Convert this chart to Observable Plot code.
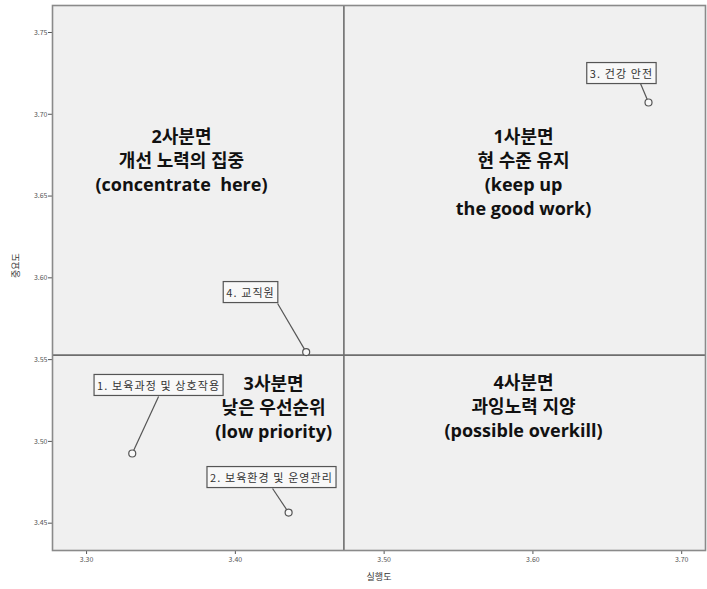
<!DOCTYPE html>
<html>
<head>
<meta charset="utf-8">
<script src="https://cdn.jsdelivr.net/npm/d3@7"></script>
<script src="https://cdn.jsdelivr.net/npm/@observablehq/plot@0.6"></script>
<style>
  html, body { margin: 0; padding: 0; background: #ffffff; }
  #chart { width: 707px; height: 589px; }
</style>
</head>
<body>
<div id="chart"></div>
<script>
// ---- data ----
const items = ["1. 보육과정 및 상호작용", "2. 보육환경 및 운영관리", "3. 건강 안전", "4. 교직원"];
const performance = [3.3307, 3.4358, 3.6777, 3.4476];   // 실행도
const importance  = [3.4926, 3.4565, 3.7072, 3.5546];   // 중요도
// label box centres and leader-line attach points (data units)
const labelX  = [3.3484, 3.4243, 3.6595, 3.4102];
const labelY  = [3.5336, 3.4773, 3.7243, 3.5904];
const leaderX = [3.3484, 3.4250, 3.6723, 3.4284];
const leaderY = [3.5275, 3.4712, 3.7188, 3.5843];

const quadrantText = [
  "1사분면\n현 수준 유지\n(keep up\nthe good work)",
  "2사분면\n개선 노력의 집중\n(concentrate  here)",
  "3사분면\n낮은 우선순위\n(low priority)",
  "4사분면\n과잉노력 지양\n(possible overkill)"
];
const quadX = [3.5937, 3.3638, 3.4257, 3.5937];
const quadY = [3.6649, 3.6722, 3.5214, 3.5220];

const xTicks = [3.30, 3.40, 3.50, 3.60, 3.70];
const yTicks = [3.45, 3.50, 3.55, 3.60, 3.65, 3.70, 3.75];
const xDomain = [3.2771, 3.7160];
const yDomain = [3.4333, 3.7665];

// ---- tables ----
const points = items.map((name, i) => ({
  name, x: performance[i], y: importance[i],
  lx: labelX[i], ly: labelY[i], ax: leaderX[i], ay: leaderY[i]
}));
const quads = quadrantText.map((t, i) => ({ t, x: quadX[i], y: quadY[i] }));

const meanX = d3.mean(performance);
const meanY = d3.mean(importance);

const font = "'Noto Sans CJK KR', 'Noto Sans', sans-serif";
const quadFont = "'Open Sans', 'Noto Sans CJK KR', sans-serif";

const chart = Plot.plot({
  width: 707,
  height: 589,
  marginLeft: 52,
  marginRight: 2,
  marginTop: 5,
  marginBottom: 39,
  style: { fontFamily: font, background: "#ffffff", overflow: "visible" },
  x: { domain: xDomain, ticks: xTicks, tickFormat: d3.format(".2f") },
  y: { domain: yDomain, ticks: yTicks, tickFormat: d3.format(".2f") },
  marks: [
    Plot.frame({ fill: "#f0f0f0", stroke: "none" }),
    Plot.ruleX([meanX], { stroke: "#6e6e6e", strokeWidth: 1.6 }),
    Plot.ruleY([meanY], { stroke: "#6e6e6e", strokeWidth: 1.6 }),
    Plot.link(points, { x1: "x", y1: "y", x2: "ax", y2: "ay", stroke: "#555", strokeWidth: 1.2 }),
    Plot.dot(points, { x: "x", y: "y", r: 3.5, stroke: "#555", fill: "#f8f8f8", strokeWidth: 1.2 }),
    Plot.text(points, {
      x: "lx", y: "ly", text: "name", fontSize: 11, fill: "#333",
      textAnchor: "middle", lineAnchor: "middle"
    }),
    Plot.text(quads, {
      x: "x", y: "y", text: "t", fontSize: 18, fontWeight: "bold", fill: "#111",
      fontFamily: quadFont,
      textAnchor: "middle", lineAnchor: "middle", lineHeight: 1.33
    }),
    Plot.axisX({ ticks: xTicks, tickFormat: d3.format(".2f"), tickSize: 4, tickPadding: 3,
      fontSize: 7, color: "#555", label: null }),
    Plot.axisY({ ticks: yTicks, tickFormat: d3.format(".2f"), tickSize: 4, tickPadding: 1,
      fontSize: 7, color: "#555", label: null }),
    Plot.text(["중요도"], { frameAnchor: "left", dx: -36, rotate: -90, fontSize: 9, fill: "#333" }),
    Plot.text(["실행도"], { frameAnchor: "bottom", dy: 29, fontSize: 9, fill: "#333" }),
    Plot.frame({ stroke: "#8a8a8a", strokeWidth: 1.6 })
  ]
});

document.getElementById("chart").appendChild(chart);

// boxes behind point labels
const NS = "http://www.w3.org/2000/svg";
Array.from(chart.querySelectorAll("text"))
  .filter(t => items.includes(t.textContent))
  .forEach(t => {
    t.style.letterSpacing = "1.1px";
    const b = t.getBBox();
    const padX = 3, padY = 2.5;
    const r = document.createElementNS(NS, "rect");
    r.setAttribute("x", b.x - padX);
    r.setAttribute("y", b.y - padY);
    r.setAttribute("width", b.width + 2 * padX);
    r.setAttribute("height", b.height + 2 * padY);
    const tr = t.getAttribute("transform");
    if (tr) r.setAttribute("transform", tr);
    r.setAttribute("fill", "#f8f8f8");
    r.setAttribute("stroke", "#555");
    r.setAttribute("stroke-width", "1.2");
    t.parentNode.insertBefore(r, t);
  });
</script>
</body>
</html>
